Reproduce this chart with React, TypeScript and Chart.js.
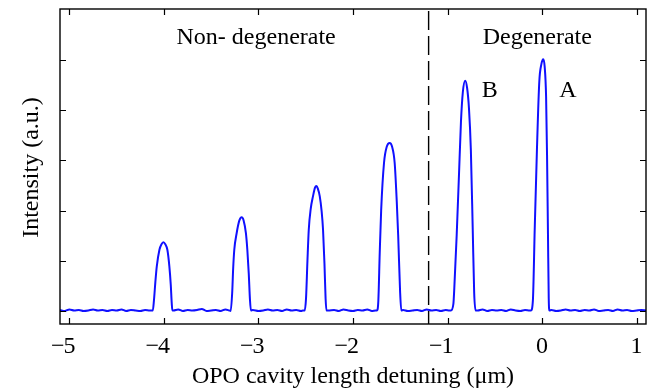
import React, { useEffect, useRef } from 'react';
import { Chart, registerables } from 'chart.js';

Chart.register(...registerables);

const FONT = '"Liberation Serif", "Times New Roman", serif';

// Axis definitions
const xRange = [-5.1, 1.1];
const yRange = [-0.26, 6.02];
const xTicks = [-5, -4, -3, -2, -1, 0, 1];
const xTickLabels = ['−5', '−4', '−3', '−2', '−1', '0', '1'];
const yTicks = [0, 1, 2, 3, 4, 5];
const dividerX = -1.2;

// Baseline segments [detuning µm, intensity]
const base0 = [[-5.1, 0.02], [-5.05, 0.0], [-5.0, 0.03], [-4.95, 0.01], [-4.9, 0.02], [-4.85, 0.0], [-4.8, 0.01], [-4.75, 0.03], [-4.7, 0.01], [-4.65, 0.02], [-4.6, 0.0], [-4.55, 0.02], [-4.5, 0.01], [-4.45, 0.03], [-4.4, 0.0], [-4.35, 0.02], [-4.3, 0.01], [-4.25, 0.0], [-4.2, 0.02], [-4.15, 0.01]];
const peak1 = [[-4.118, 0.01], [-4.106, 0.21], [-4.091, 0.58], [-4.076, 0.89], [-4.048, 1.22], [-4.026, 1.33], [-4.006, 1.37], [-3.986, 1.33], [-3.964, 1.22], [-3.943, 0.89], [-3.928, 0.52], [-3.918, 0.16], [-3.911, 0.01]];
const base1 = [[-3.9, 0.01], [-3.85, 0.03], [-3.8, 0.0], [-3.75, 0.02], [-3.7, 0.01], [-3.65, 0.02], [-3.6, 0.04], [-3.55, 0.0], [-3.5, 0.01], [-3.45, 0.02], [-3.4, 0.0], [-3.35, 0.03], [-3.31, 0.01]];
const peak2 = [[-3.294, 0.0], [-3.278, 0.37], [-3.268, 0.84], [-3.256, 1.22], [-3.231, 1.55], [-3.203, 1.8], [-3.178, 1.87], [-3.158, 1.81], [-3.133, 1.55], [-3.118, 1.22], [-3.103, 0.75], [-3.09, 0.22], [-3.08, 0.01]];
const base2 = [[-3.06, 0.02], [-3.0, 0.0], [-2.95, 0.01], [-2.9, 0.03], [-2.85, 0.01], [-2.8, 0.02], [-2.75, 0.0], [-2.7, 0.03], [-2.65, 0.01], [-2.6, 0.02], [-2.55, 0.0], [-2.53, 0.01]];
const peak3 = [[-2.511, 0.01], [-2.497, 0.25], [-2.482, 1.0], [-2.468, 1.62], [-2.447, 2.04], [-2.423, 2.29], [-2.402, 2.46], [-2.387, 2.49], [-2.372, 2.44], [-2.352, 2.29], [-2.332, 1.99], [-2.317, 1.62], [-2.302, 0.95], [-2.29, 0.25], [-2.281, 0.01]];
const base3 = [[-2.26, 0.01], [-2.2, 0.02], [-2.15, 0.0], [-2.1, 0.03], [-2.05, 0.01], [-2.0, 0.0], [-1.95, 0.02], [-1.9, 0.01], [-1.85, 0.03], [-1.8, 0.0], [-1.76, 0.01]];
const peak4 = [[-1.747, 0.01], [-1.732, 0.2], [-1.717, 1.17], [-1.702, 2.01], [-1.672, 2.95], [-1.642, 3.28], [-1.612, 3.35], [-1.587, 3.28], [-1.559, 2.95], [-1.537, 2.18], [-1.522, 1.51], [-1.502, 0.4], [-1.489, 0.01]];
const base4 = [[-1.47, 0.02], [-1.42, 0.0], [-1.37, 0.01], [-1.32, 0.02], [-1.27, 0.0], [-1.22, 0.03], [-1.17, 0.01], [-1.12, 0.02], [-1.07, 0.0], [-1.02, 0.02], [-0.98, 0.01]];
const peakB = [[-0.964, 0.01], [-0.938, 0.14], [-0.928, 0.46], [-0.903, 1.51], [-0.878, 2.75], [-0.858, 3.76], [-0.838, 4.36], [-0.813, 4.59], [-0.793, 4.45], [-0.773, 4.04], [-0.753, 3.21], [-0.733, 1.61], [-0.718, 0.37], [-0.703, 0.01]];
const base5 = [[-0.68, 0.01], [-0.63, 0.03], [-0.58, 0.0], [-0.53, 0.02], [-0.48, 0.01], [-0.43, 0.02], [-0.38, 0.0], [-0.33, 0.03], [-0.28, 0.01], [-0.23, 0.0], [-0.18, 0.02], [-0.13, 0.01]];
const peakA = [[-0.117, 0.01], [-0.097, 0.2], [-0.077, 1.66], [-0.054, 3.21], [-0.029, 4.57], [-0.007, 4.92], [0.013, 5.02], [0.028, 4.87], [0.043, 4.27], [0.053, 3.11], [0.063, 1.51], [0.071, 0.25], [0.078, 0.01]];
const base6 = [[0.1, 0.02], [0.15, 0.0], [0.2, 0.01], [0.25, 0.03], [0.3, 0.01], [0.35, 0.02], [0.4, 0.0], [0.45, 0.02], [0.5, 0.01], [0.55, 0.03], [0.6, 0.0], [0.65, 0.01], [0.7, 0.02], [0.75, 0.0], [0.8, 0.03], [0.85, 0.01], [0.9, 0.02], [0.95, 0.0], [1.0, 0.01], [1.05, 0.02], [1.1, 0.01]];

// Annotations [x, y(baseline), text]
const annotations: [number, number, string][] = [
  [-3.025, 5.33, 'Non- degenerate'],
  [-0.05, 5.33, 'Degenerate'],
  [-0.553, 4.27, 'B'],
  [0.273, 4.27, 'A'],
];

const xTitle = 'OPO cavity length detuning (μm)';
const yTitle = 'Intensity (a.u.)';

const trace = [
  ...base0, ...peak1, ...base1, ...peak2, ...base2, ...peak3, ...base3,
  ...peak4, ...base4, ...peakB, ...base5, ...peakA, ...base6,
].map(([x, y]) => ({ x, y }));

const framePlugin = {
  id: 'framePlugin',
  afterDraw(chart: any) {
    const ctx = chart.ctx as CanvasRenderingContext2D;
    const { left, right, top, bottom } = chart.chartArea;
    const xs = chart.scales.x;
    const ys = chart.scales.y;
    ctx.save();
    // dashed divider
    const dx = xs.getPixelForValue(dividerX);
    ctx.strokeStyle = '#000';
    ctx.lineWidth = 1.4;
    ctx.setLineDash([19, 6]);
    ctx.beginPath();
    ctx.moveTo(dx, top + 2);
    ctx.lineTo(dx, bottom);
    ctx.stroke();
    ctx.setLineDash([]);

    // frame
    ctx.lineWidth = 1.4;
    ctx.strokeRect(left, top, right - left, bottom - top);

    // ticks inward
    const tl = 6;
    ctx.beginPath();
    xTicks.forEach((v) => {
      const px = Math.round(xs.getPixelForValue(v)) + 0.5;
      ctx.moveTo(px, bottom);
      ctx.lineTo(px, bottom - tl);
      ctx.moveTo(px, top);
      ctx.lineTo(px, top + tl);
    });
    yTicks.forEach((v) => {
      const py = Math.round(ys.getPixelForValue(v)) + 0.5;
      ctx.moveTo(left, py);
      ctx.lineTo(left + tl, py);
      ctx.moveTo(right, py);
      ctx.lineTo(right - tl, py);
    });
    ctx.lineWidth = 1.2;
    ctx.stroke();

    // tick labels
    ctx.fillStyle = '#000';
    ctx.font = `24px ${FONT}`;
    ctx.textBaseline = 'alphabetic';
    xTicks.forEach((v, i) => {
      const label = xTickLabels[i];
      const px = xs.getPixelForValue(v);
      const y = bottom + 29;
      if (label.startsWith('−')) {
        const digits = label.slice(1);
        const w = ctx.measureText(digits).width;
        ctx.textAlign = 'center';
        ctx.fillText(digits, px, y);
        ctx.textAlign = 'right';
        ctx.fillText('−', px - w / 2 + 1, y);
      } else {
        ctx.textAlign = 'center';
        ctx.fillText(label, px, y);
      }
    });

    // axis titles
    ctx.textAlign = 'center';
    ctx.fillText(xTitle, (left + right) / 2, bottom + 59);
    ctx.save();
    ctx.translate(37.5, (top + bottom) / 2 + 1);
    ctx.rotate(-Math.PI / 2);
    ctx.fillText(yTitle, 0, 0);
    ctx.restore();

    // annotations
    annotations.forEach(([x, y, t]) => {
      ctx.fillText(t, xs.getPixelForValue(x), ys.getPixelForValue(y));
    });
    ctx.restore();
  },
};

export default function App() {
  const ref = useRef<HTMLCanvasElement | null>(null);
  useEffect(() => {
    if (!ref.current) return;
    const chart = new Chart(ref.current, {
      type: 'line',
      data: {
        datasets: [
          {
            data: trace,
            borderColor: '#1010ff',
            borderWidth: 2,
            pointRadius: 0,
            fill: false,
            cubicInterpolationMode: 'monotone',
          },
        ],
      },
      options: {
        animation: false,
        responsive: false,
        devicePixelRatio: 1,
        parsing: false,
        layout: { padding: { left: 60, top: 9, right: 8, bottom: 64 } },
        plugins: { legend: { display: false }, tooltip: { enabled: false } },
        scales: {
          x: {
            type: 'linear',
            min: xRange[0],
            max: xRange[1],
            ticks: { display: false },
            grid: { display: false, drawTicks: false },
            border: { display: false },
            afterFit: (s: any) => { s.height = 0; },
          },
          y: {
            type: 'linear',
            min: yRange[0],
            max: yRange[1],
            ticks: { display: false },
            grid: { display: false, drawTicks: false },
            border: { display: false },
            afterFit: (s: any) => { s.width = 0; },
          },
        },
      },
      plugins: [framePlugin],
    } as any);
    return () => chart.destroy();
  }, []);
  return (
    <div style={{ position: 'absolute', left: 0, top: 0, width: 654, height: 388, background: '#fff' }}>
      <canvas ref={ref} width={654} height={388} style={{ display: 'block' }} />
    </div>
  );
}
